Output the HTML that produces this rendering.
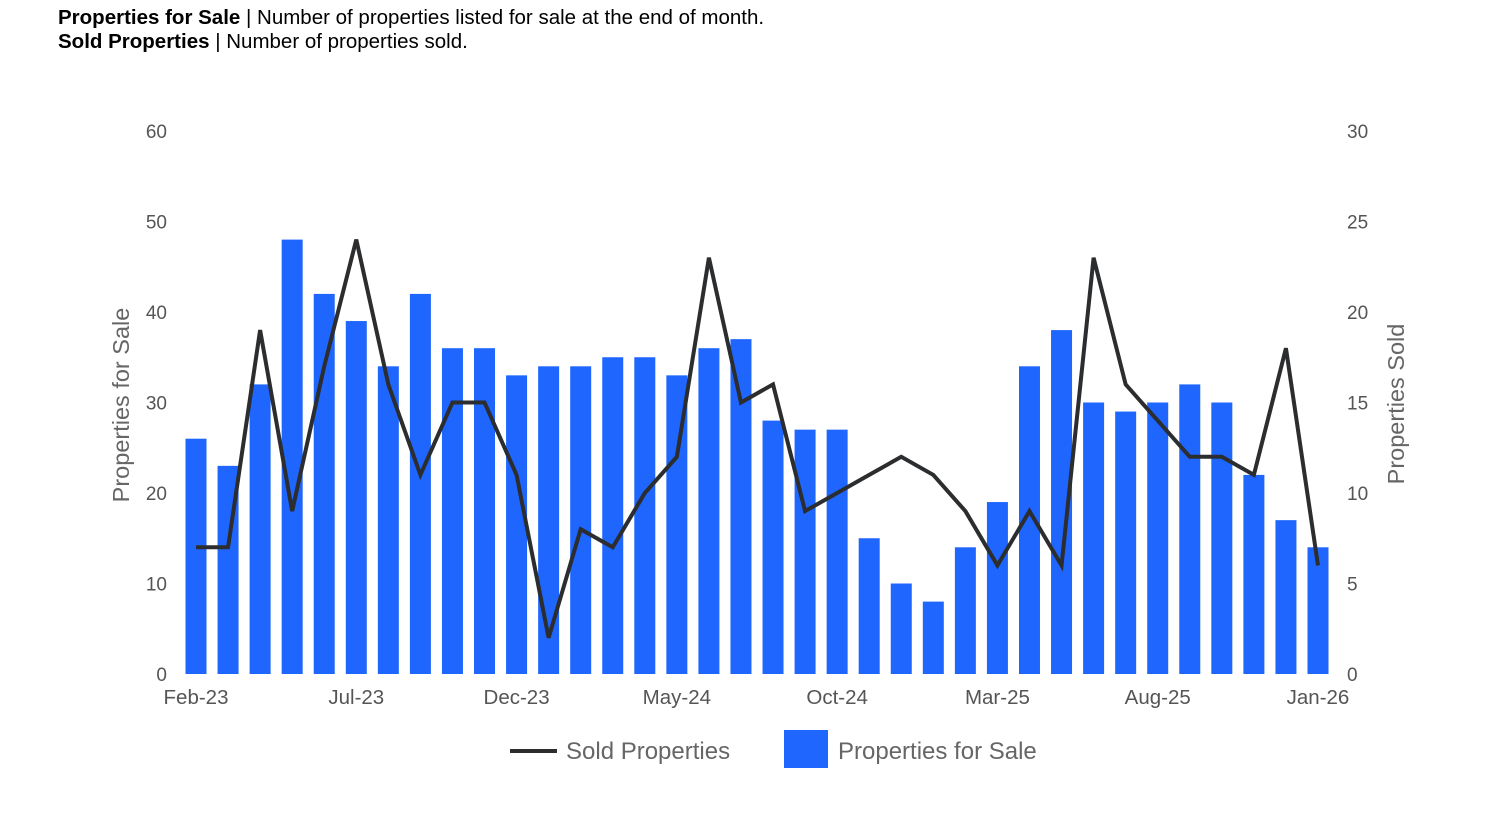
<!DOCTYPE html>
<html><head><meta charset="utf-8"><style>
body{margin:0;background:#fff;width:1490px;height:831px;overflow:hidden;font-family:"Liberation Sans",sans-serif}
.hdr{position:absolute;left:58px;font-size:20.5px;color:#000;white-space:nowrap}
</style></head><body>
<div class="hdr" style="top:6px"><b>Properties for Sale</b> | Number of properties listed for sale at the end of month.</div>
<div class="hdr" style="top:30px"><b>Sold Properties</b> | Number of properties sold.</div>
<svg id="c" width="1490" height="831" style="position:absolute;left:0;top:0"></svg>
<script>
const months=["Feb-23","Mar-23","Apr-23","May-23","Jun-23","Jul-23","Aug-23","Sep-23","Oct-23","Nov-23","Dec-23","Jan-24","Feb-24","Mar-24","Apr-24","May-24","Jun-24","Jul-24","Aug-24","Sep-24","Oct-24","Nov-24","Dec-24","Jan-25","Feb-25","Mar-25","Apr-25","May-25","Jun-25","Jul-25","Aug-25","Sep-25","Oct-25","Nov-25","Dec-25","Jan-26"];
const forSale=[26,23,32,48,42,39,34,42,36,36,33,34,34,35,35,33,36,37,28,27,27,15,10,8,14,19,34,38,30,29,30,32,30,22,17,14];
const sold=[7,7,19,9,17,24,16,11,15,15,11,2,8,7,10,12,23,15,16,9,10,11,12,11,9,6,9,6,23,16,14,12,12,11,18,6];
const leftTicks=[0,10,20,30,40,50,60];
const rightTicks=[0,5,10,15,20,25,30];
const svg=document.getElementById('c');
const NS='http://www.w3.org/2000/svg';
const x0=196,x1=1318,yb=674,yt=131;
const xs=i=>x0+(x1-x0)*i/(months.length-1);
const yL=v=>yb-(yb-yt)*v/60;
const yR=v=>yb-(yb-yt)*v/30;
function mk(t,a,txt){const e=document.createElementNS(NS,t);for(const k in a)e.setAttribute(k,a[k]);if(txt!=null)e.textContent=txt;svg.appendChild(e);return e;}
leftTicks.forEach(v=>{const e=mk('text',{x:167,y:yL(v)+7,'text-anchor':'end','font-size':19,fill:'#555'},v);

});
rightTicks.forEach(v=>{const e=mk('text',{x:1347,y:yR(v)+7,'text-anchor':'start','font-size':19,fill:'#555'},v);

});
forSale.forEach((v,i)=>{const e=mk('rect',{x:xs(i)-10.5,y:yL(v),width:21,height:yb-yL(v),fill:'#1f66ff'});

});
const pl=mk('polyline',{points:sold.map((v,i)=>xs(i)+','+yR(v)).join(' '),fill:'none',stroke:'#2b2d2f','stroke-width':4,'stroke-linejoin':'miter'});


months.forEach((m,i)=>{if(i%5)return;const e=mk('text',{x:xs(i),y:704,'text-anchor':'middle','font-size':20.5,fill:'#555'},m);

});
const t1=mk('text',{x:0,y:0,transform:'translate(129,405) rotate(-90)','text-anchor':'middle','font-size':23.5,fill:'#666'},'Properties for Sale');


const t2=mk('text',{x:0,y:0,transform:'translate(1404,404) rotate(-90)','text-anchor':'middle','font-size':23.5,fill:'#666'},'Properties Sold');


const l1=mk('line',{x1:510,y1:751,x2:557,y2:751,stroke:'#2b2d2f','stroke-width':4});


const l2=mk('text',{x:566,y:759,'font-size':24,fill:'#666'},'Sold Properties');


const l3=mk('rect',{x:784,y:730,width:44,height:38,fill:'#1f66ff'});


const l4=mk('text',{x:838,y:759,'font-size':24,fill:'#666'},'Properties for Sale');


</script>
</body></html>
